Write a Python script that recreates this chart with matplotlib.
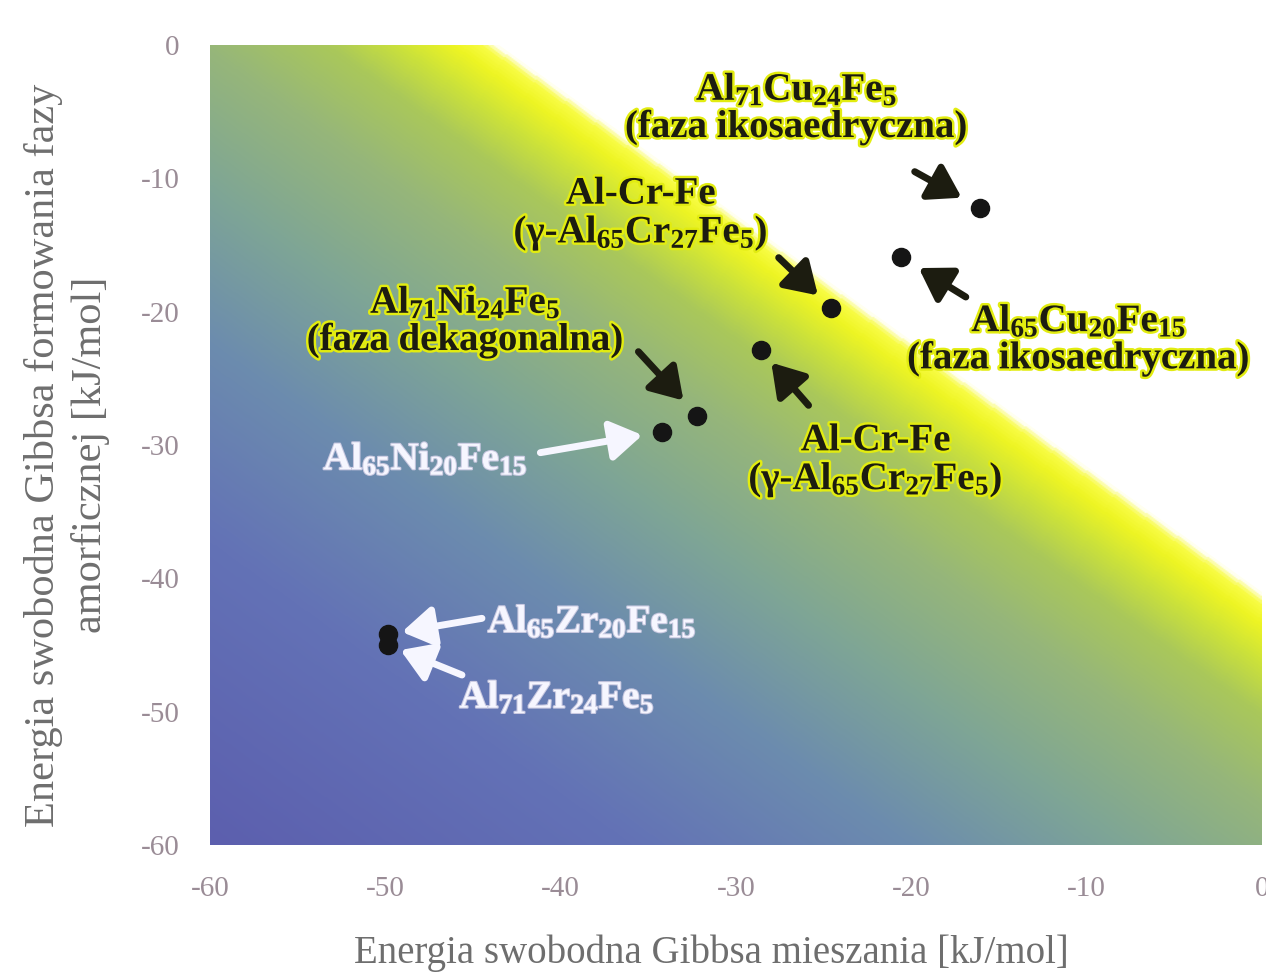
import numpy as np
import matplotlib.pyplot as plt
import matplotlib.patheffects as pe
from matplotlib.colors import LinearSegmentedColormap

plt.rcParams["font.family"] = ["Liberation Serif", "DejaVu Serif"]
plt.rcParams["mathtext.fontset"] = "custom"
plt.rcParams["mathtext.rm"] = "Liberation Serif:bold"
plt.rcParams["mathtext.it"] = "Liberation Serif:italic:bold"
plt.rcParams["mathtext.bf"] = "Liberation Serif:bold"
plt.rcParams["axes.unicode_minus"] = False

# dane (kJ/mol)
stopy = ["Al71Cu24Fe5", "Al65Cu20Fe15", "AlCrFe_a", "AlCrFe_b",
         "Al71Ni24Fe5", "Al65Ni20Fe15", "Al65Zr20Fe15", "Al71Zr24Fe5"]
dG_mix = [-16.1, -20.6, -24.6, -28.6, -32.2, -34.2, -49.85, -49.85]
dG_amorf = [-12.2, -15.9, -19.7, -22.9, -27.8, -29.0, -44.2, -45.0]

etykiety = [
    "Al$_{71}$Cu$_{24}$Fe$_{5}$\n(faza ikosaedryczna)",
    "Al$_{65}$Cu$_{20}$Fe$_{15}$\n(faza ikosaedryczna)",
    "Al-Cr-Fe\n(γ-Al$_{65}$Cr$_{27}$Fe$_{5}$)",
    "Al-Cr-Fe\n(γ-Al$_{65}$Cr$_{27}$Fe$_{5}$)",
    "Al$_{71}$Ni$_{24}$Fe$_{5}$\n(faza dekagonalna)",
    "Al$_{65}$Ni$_{20}$Fe$_{15}$",
    "Al$_{65}$Zr$_{20}$Fe$_{15}$",
    "Al$_{71}$Zr$_{24}$Fe$_{5}$",
]
# przesuniecia w pikselach wzgledem punktu: etykieta, ogon strzalki, grot
off_txt = [(-183, 99), (178, -83), (-190, 93), (115, -111),
           (-232, 94), (-237, -28), (204, 12), (169, -53)]
off_tail = [(-65, 36), (65, -40), (-52, 50), (48, -55),
            (-59, 64), (-122, -21), (94, 16), (74, -30)]
off_tip = [(-18, 10), (18, -11), (-12, 13), (10, -13),
           (-13, 16), (-20, -3), (14, 2), (12, -6)]
biale = [False, False, False, False, False, True, True, True]

x_ticks = [-60, -50, -40, -30, -20, -10, 0]
y_ticks = [0, -10, -20, -30, -40, -50, -60]

# granica obszaru (bialy powyzej)
gr_x0, gr_y0 = -43.5, 0.0
gr_x1, gr_y1 = 0.0, -41.0

fig = plt.figure(figsize=(12.66, 9.74), dpi=100)
ax = fig.add_axes([210 / 1266, 1 - 845 / 974, 1052 / 1266, 800 / 974])

# tlo - gradient
cmap = LinearSegmentedColormap.from_list("tlo", [
    (0.0, "#5c5fae"), (0.3, "#6372b6"), (0.5, "#6c8cae"),
    (0.65, "#7ea596"), (0.79, "#96b67a"), (0.88, "#aac85a"),
    (0.93, "#cce23a"), (0.97, "#eef523"), (0.99, "#f8fc45"),
    (1.0, "#fffff0")])
gx, gy = np.meshgrid(np.linspace(-60, 0, 600), np.linspace(-60, 0, 600))
a = gr_y0 - gr_y1
b = gr_x1 - gr_x0
c = -(a * gr_x0 + b * gr_y0)
f = a * gx + b * gy + c
f0 = a * -60 + b * -60 + c
t = np.clip(1 - f / f0, 0, 1)
ax.imshow(t, cmap=cmap, extent=(-60, 0, -60, 0), origin="lower",
          aspect="auto", interpolation="bilinear", zorder=0)
ax.fill([gr_x0, 0, 0, gr_x1], [0, 0, 0, gr_y1], color="white", lw=0, zorder=1)

ax.scatter(dG_mix, dG_amorf, s=170, color="#151515", zorder=5)

for i in range(len(stopy)):
    p = (dG_mix[i], dG_amorf[i])
    if biale[i]:
        kol = "#f6f6ff"
        efekt = [pe.withStroke(linewidth=1.5, foreground="#c8c8e0")]
    else:
        kol = "#1c1c10"
        efekt = [pe.withStroke(linewidth=3.5, foreground="#e2ec10")]
    ax.annotate("", xy=p, xytext=off_tail[i], textcoords="offset pixels",
                arrowprops=dict(arrowstyle="-|>,head_length=0.95,head_width=0.6",
                                color=kol, lw=5, mutation_scale=20,
                                shrinkA=0,
                                shrinkB=np.hypot(*off_tip[i]) * 0.72),
                zorder=6)
    ax.annotate(etykiety[i], xy=p, xytext=off_txt[i], textcoords="offset pixels",
                ha="center", va="center", multialignment="center",
                fontsize=28, fontweight="bold", color=kol, linespacing=1.0,
                path_effects=efekt, zorder=7)

ax.set_xlim(-60, 0)
ax.set_ylim(-60, 0)
ax.set_xticks(x_ticks)
ax.set_yticks(y_ticks)
ax.tick_params(length=0, labelsize=21, labelcolor="#9a8c96")
ax.tick_params(axis="x", pad=22)
ax.tick_params(axis="y", pad=22)
for s in ax.spines.values():
    s.set_visible(False)

ax.set_xlabel("Energia swobodna Gibbsa mieszania [kJ/mol]", fontsize=28,
              color="#6e6e6e")
ax.xaxis.set_label_coords(0.477, -0.112)
ax.set_ylabel("Energia swobodna Gibbsa formowania fazy\namorficznej [kJ/mol]",
              fontsize=30.5, color="#6e6e6e", linespacing=1.25, va="center")
ax.yaxis.set_label_coords(-0.136, 0.4875)

fig.savefig("out.png", dpi=100)
